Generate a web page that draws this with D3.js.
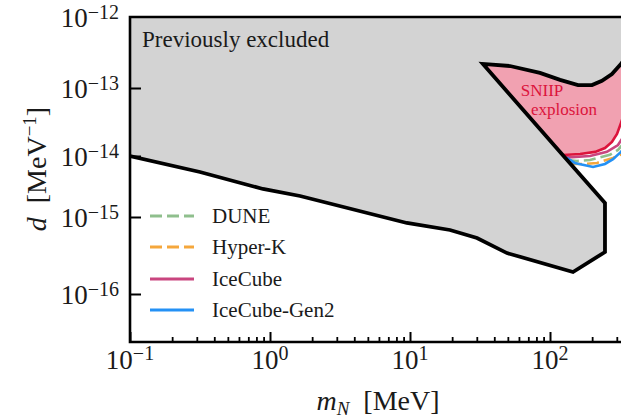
<!DOCTYPE html>
<html>
<head>
<meta charset="utf-8">
<script src="https://cdn.jsdelivr.net/npm/d3@7"></script>
<style>
  body { margin: 0; background: #fff; }
  text { font-family: "Liberation Serif", "DejaVu Serif", serif; fill: #1a1a1a; }
</style>
</head>
<body>
<div id="chart"></div>
<script>
const width = 621;
const height = 418;
const mLeft = 130, mRight = 690, mTop = 17, mBottom = 342;

// tick values
const xMajor = [0.1, 1, 10, 100];
const xExp = ["−1", "0", "1", "2"];
const yMajor = [1e-12, 1e-13, 1e-14, 1e-15, 1e-16];
const yExp = ["−12", "−13", "−14", "−15", "−16"];

// previously excluded: lower bound (left to right)
const excludedLow = [
  [0.1, 1.0e-14], [0.316, 5.47e-15], [0.891, 2.88e-15], [1.64, 2.21e-15],
  [9.5, 8.36e-16], [19.3, 6.78e-16], [30.1, 5.33e-16], [49.3, 3.40e-16],
  [146, 1.93e-16], [247, 3.51e-16], [247, 1.70e-15]
];
// diagonal edge (bottom to top)
const excludedDiag = [[247, 1.70e-15], [125, 1.0e-14], [46.9, 1.0e-13], [33.2, 2.18e-13]];
// SNIIP upper edge (left to right)
const sniipTop = [
  [33.2, 2.18e-13], [51.8, 2.04e-13], [84.8, 1.63e-13], [118, 1.30e-13],
  [158.5, 1.10e-13], [199.5, 1.10e-13], [235, 1.26e-13], [277, 1.57e-13],
  [321, 2.18e-13], [385, 3.43e-13]
];
// SNIIP lower edge (left to right)
const sniipLow = [
  [124, 1.035e-14], [164, 1.07e-14], [210, 1.15e-14], [247, 1.31e-14],
  [277, 1.61e-14], [301, 2.11e-14], [321, 3.05e-14], [349, 5.08e-14], [420, 2.0e-13]
];

// sensitivities
const names = ["DUNE", "Hyper-K", "IceCube", "IceCube-Gen2"];
const colors = ["#8fbf8d", "#f5a73c", "#c9457f", "#2491f5"];
const dashes = ["12,5", "12,5", null, null];
const dune = [[132, 8.6e-15], [156, 8.3e-15], [193, 8.6e-15], [268, 1.04e-14], [306, 1.23e-14], [343, 1.6e-14]];
const hyperK = [[139, 7.4e-15], [172, 7.4e-15], [217, 7.7e-15], [282, 9.3e-15], [316, 1.04e-14], [349, 1.3e-14]];
const iceCube = [[130, 9.6e-15], [144, 9.6e-15], [193, 1.0e-14], [255, 1.15e-14], [306, 1.45e-14], [338, 2.0e-14]];
const gen2 = [[132, 9.3e-15], [150, 7.7e-15], [203, 6.6e-15], [247, 7.4e-15], [282, 8.9e-15], [321, 1.15e-14], [354, 1.45e-14]];
const curves = [dune, hyperK, iceCube, gen2];

const x = d3.scaleLog().domain([0.1, 1000]).range([mLeft, mRight]);
const y = d3.scaleLog()
  .domain([1e-12, 1e-13, 1e-14, 1e-15, 1e-16, 2.4e-17])
  .range([17, 88, 156, 217, 294, 342]);

const svg = d3.select('#chart')
  .append('svg')
  .attr('width', width)
  .attr('height', height);

svg.append('clipPath').attr('id', 'clip')
  .append('rect')
  .attr('x', mLeft).attr('y', mTop)
  .attr('width', mRight - mLeft).attr('height', mBottom - mTop);

const line = d3.line().x(d => x(d[0])).y(d => y(d[1]));
const plot = svg.append('g').attr('clip-path', 'url(#clip)');

// sensitivity curves
plot.selectAll('path.curve')
  .data(curves)
  .enter()
  .append('path')
  .attr('class', 'curve')
  .attr('d', line)
  .attr('fill', 'none')
  .attr('stroke', (d, i) => colors[i])
  .attr('stroke-width', 2.6)
  .attr('stroke-dasharray', (d, i) => dashes[i]);

// grey excluded region
const greyPoly = [[0.1, 1e-12], [1000, 1e-12], [1000, 3.43e-13]]
  .concat(sniipTop.slice().reverse())
  .concat(excludedDiag.slice(1).reverse().slice(1))
  .concat(excludedLow.slice().reverse());
plot.append('path')
  .attr('d', line(greyPoly) + 'Z')
  .attr('fill', '#d3d3d3');

// SNIIP region
const pinkPoly = sniipTop.concat([[420, 2.0e-13]])
  .concat(sniipLow.slice(0, -1).reverse())
  .concat([[46.9, 1.0e-13]]);
plot.append('path')
  .attr('d', line(pinkPoly) + 'Z')
  .attr('fill', 'crimson')
  .attr('fill-opacity', 0.4);
plot.append('path')
  .attr('d', line(sniipLow))
  .attr('fill', 'none')
  .attr('stroke', 'crimson')
  .attr('stroke-width', 2.6);

// black outline
const outline = excludedLow.concat(excludedDiag.slice(1)).concat(sniipTop.slice(1));
plot.append('path')
  .attr('d', line(outline))
  .attr('fill', 'none')
  .attr('stroke', '#000')
  .attr('stroke-width', 3.8)
  .attr('stroke-linejoin', 'miter');

// labels in plot
svg.append('text')
  .attr('x', 142).attr('y', 47)
  .style('font-size', '23px')
  .text('Previously excluded');
svg.append('text')
  .attr('x', 542).attr('y', 96)
  .attr('text-anchor', 'middle')
  .style('font-size', '17px')
  .style('fill', 'crimson')
  .text('SNIIP');
svg.append('text')
  .attr('x', 564).attr('y', 115)
  .attr('text-anchor', 'middle')
  .style('font-size', '17px')
  .style('fill', 'crimson')
  .text('explosion');

// legend
const legend = svg.append('g');
const rowY = [216, 247, 279, 310];
legend.selectAll('line')
  .data(names)
  .enter()
  .append('line')
  .attr('x1', 150).attr('x2', 194)
  .attr('y1', (d, i) => rowY[i]).attr('y2', (d, i) => rowY[i])
  .attr('stroke', (d, i) => colors[i])
  .attr('stroke-width', 3)
  .attr('stroke-dasharray', (d, i) => dashes[i]);
legend.selectAll('text')
  .data(names)
  .enter()
  .append('text')
  .attr('x', 212)
  .attr('y', (d, i) => rowY[i] + 7)
  .style('font-size', '21px')
  .text(d => d);

// axes: ticks pointing inward
const xMinor = [];
[0.1, 1, 10, 100].forEach(b => { for (let k = 2; k <= 9; k++) xMinor.push(b * k); });

svg.append('g')
  .attr('transform', `translate(0,${mBottom})`)
  .call(d3.axisBottom(x).tickValues(xMinor).tickSize(-5).tickFormat(''))
  .call(g => g.select('.domain').remove())
  .call(g => g.selectAll('line').attr('stroke', '#000').attr('stroke-width', 1.8));
svg.append('g')
  .attr('transform', `translate(0,${mBottom})`)
  .call(d3.axisBottom(x).tickValues(xMajor).tickSize(-10).tickFormat(''))
  .call(g => g.select('.domain').remove())
  .call(g => g.selectAll('line').attr('stroke', '#000').attr('stroke-width', 2));
svg.append('g')
  .attr('transform', `translate(${mLeft},0)`)
  .call(d3.axisLeft(y).tickValues(yMajor.slice(1)).tickSize(-11).tickFormat(''))
  .call(g => g.select('.domain').remove())
  .call(g => g.selectAll('line').attr('stroke', '#000').attr('stroke-width', 2));

// frame (left, top, bottom visible)
svg.append('path')
  .attr('d', `M${mRight},${mTop}H${mLeft}V${mBottom}H${mRight}`)
  .attr('fill', 'none')
  .attr('stroke', '#000')
  .attr('stroke-width', 2.6);

// tick labels
const xl = svg.selectAll('text.xl')
  .data(xMajor)
  .enter()
  .append('text')
  .attr('class', 'xl')
  .attr('x', d => x(d))
  .attr('y', 369)
  .attr('text-anchor', 'middle')
  .style('font-size', '27px');
xl.append('tspan').text('10');
xl.append('tspan').attr('dy', -9).style('font-size', '20px').text((d, i) => xExp[i]);

const yl = svg.selectAll('text.yl')
  .data(yMajor)
  .enter()
  .append('text')
  .attr('class', 'yl')
  .attr('x', 119)
  .attr('y', d => y(d) + 10)
  .attr('text-anchor', 'end')
  .style('font-size', '27px');
yl.append('tspan').text('10');
yl.append('tspan').attr('dy', -8).style('font-size', '20px').text((d, i) => yExp[i]);

// axis titles
const xt = svg.append('text')
  .attr('x', 378).attr('y', 410)
  .attr('text-anchor', 'middle')
  .style('font-size', '28px');
xt.append('tspan').style('font-style', 'italic').text('m');
xt.append('tspan').attr('dy', 5).style('font-size', '19px').style('font-style', 'italic').text('N');
xt.append('tspan').attr('dy', -5).text('\u2002[MeV]');

const yt = svg.append('text')
  .attr('transform', 'translate(46,169) rotate(-90)')
  .attr('text-anchor', 'middle')
  .style('font-size', '28px');
yt.append('tspan').style('font-style', 'italic').text('d');
yt.append('tspan').text('\u2002[MeV');
yt.append('tspan').attr('dy', -10).style('font-size', '19px').text('−1');
yt.append('tspan').attr('dy', 10).text(']');
</script>
</body>
</html>
